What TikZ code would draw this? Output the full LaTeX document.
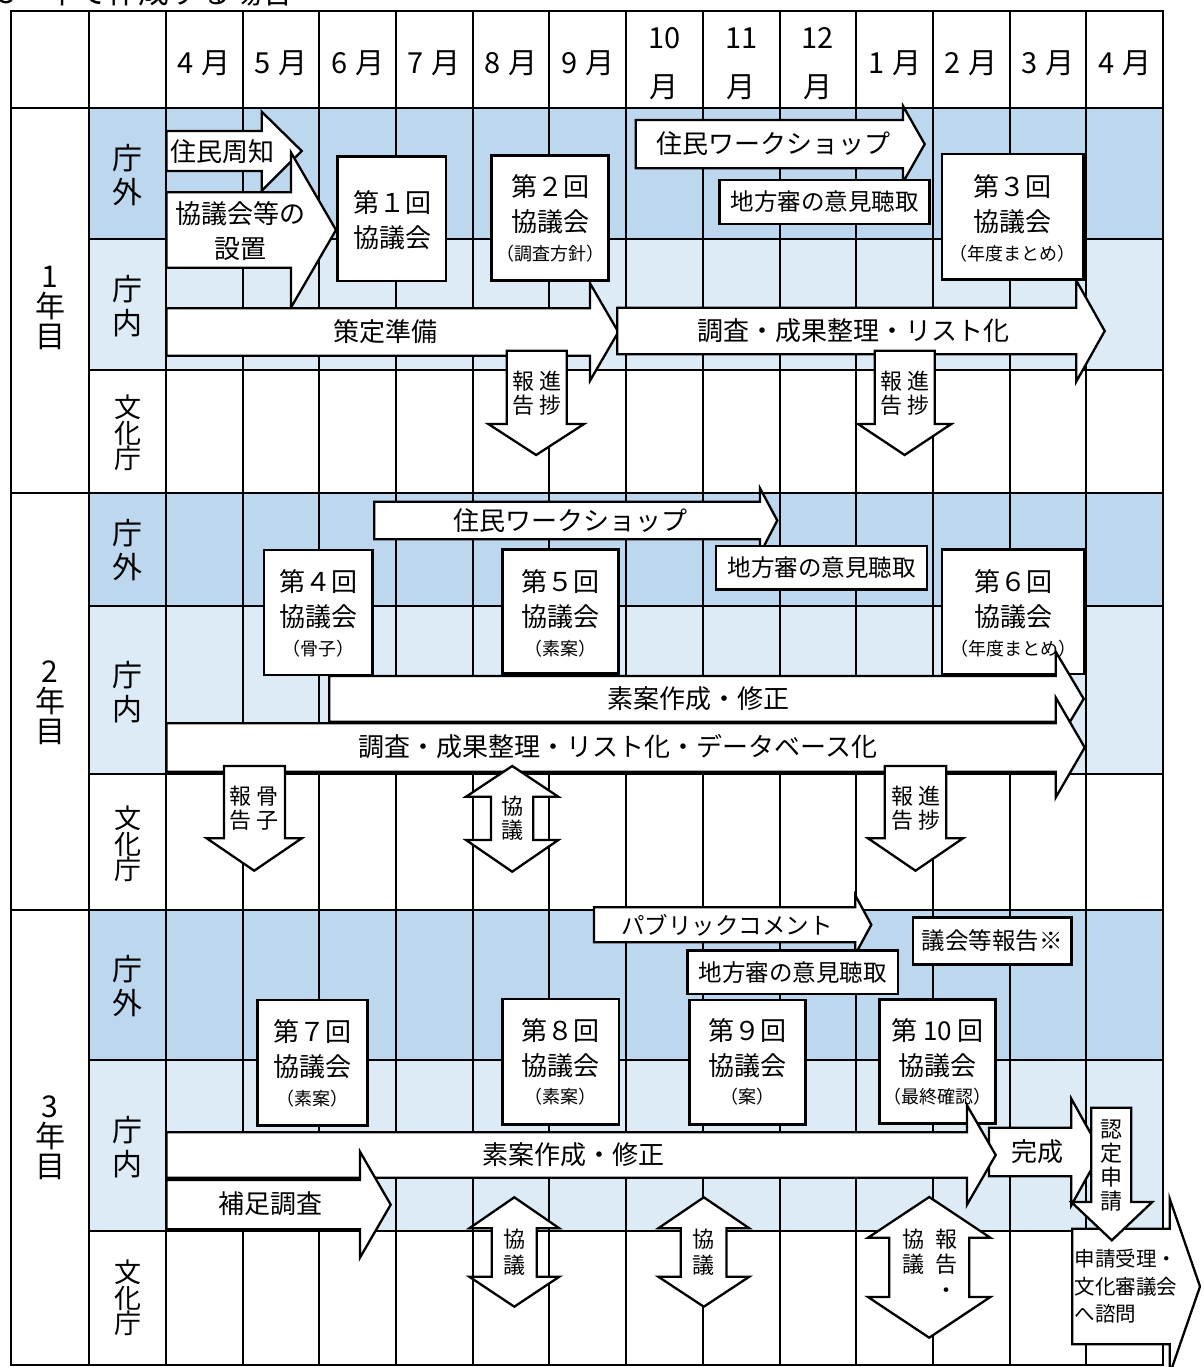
\documentclass[tikz,border=0pt]{standalone}
\usepackage{fontspec}
\setmainfont{Noto Sans CJK JP}
\definecolor{outerblue}{HTML}{BDD7EE}
\definecolor{innerblue}{HTML}{DDEBF7}
\newcommand\myRA[7]{\draw[blk] (#1,#2) -- (#4,#2) -- (#4,#5) -- (#7,{(#2+#3)/2}) -- (#4,#6) -- (#4,#3) -- (#1,#3) -- cycle;}
\newcommand\myDA[7]{\draw[blk] (#1,#3) -- (#2,#3) -- (#2,#4) -- (#6,#4) -- ({(#5+#6)/2},#7) -- (#5,#4) -- (#1,#4) -- cycle;}
\newcommand\myUDA[9]{\draw[blk] (#1,#2) -- (#5,#3) -- (#7,#3) -- (#7,#8) -- (#5,#8) -- (#1,#9) -- (#4,#8) -- (#6,#8) -- (#6,#3) -- (#4,#3) -- cycle;}
\newcommand\myBox[4]{\draw[bx] (#1,#2) rectangle (#3,#4);}
\newcommand\myPar[1]{\makebox[15pt][r]{（}#1\makebox[15pt][l]{）}}
\tikzset{
  grid/.style={line width=2pt},
  blk/.style={draw=black, fill=white, line width=2.3pt, line join=miter},
  bx/.style={draw=black, fill=white, line width=2.7pt},
  t26/.style={inner sep=0pt, align=center, font=\fontsize{26}{35}\selectfont},
  t17/.style={inner sep=0pt, font=\fontsize{18}{20}\selectfont},
  t23/.style={inner sep=0pt, font=\fontsize{23.5}{26}\selectfont},
  t22/.style={inner sep=0pt, align=center, font=\fontsize{22}{23.5}\selectfont},
  t22b/.style={inner sep=0pt, align=center, font=\fontsize{22}{26.5}\selectfont},
  hdr/.style={inner sep=0pt, align=center, font=\fontsize{29}{49}\selectfont},
  side/.style={inner sep=0pt, align=center, font=\fontsize{30}{34}\selectfont},
  bunka/.style={inner sep=0pt, align=center, font=\fontsize{27}{25.5}\selectfont},
  yearlbl/.style={inner sep=0pt, align=center, font=\fontsize{30}{30}\selectfont},
}
\begin{document}
\setlength{\lineskiplimit}{-30pt}
\begin{tikzpicture}[x=1pt,y=-1pt]
\useasboundingbox (0,0) rectangle (1203,1367);
\clip (0,0) rectangle (1203,1367);
\fill[white] (0,0) rectangle (1203,1367);
% title (cut off at top)
\node[anchor=base west, inner sep=0pt, font=\fontsize{31}{31}\selectfont] (title) at (-2,4) {3\hspace{30pt}年で作成する場合};
% bands
\fill[outerblue] (89.2,107.7) rectangle (1163,238.7);
\fill[innerblue] (89.2,238.7) rectangle (1163,370);
\fill[outerblue] (89.2,492.7) rectangle (1163,605.7);
\fill[innerblue] (89.2,605.7) rectangle (1163,774);
\fill[outerblue] (89.2,910) rectangle (1163,1060);
\fill[innerblue] (89.2,1060) rectangle (1163,1231);
% grid lines
\foreach \x in {89.2,165.9,242.6,319.3,396.0,472.7,549.4,626.1,702.8,779.5,856.2,932.9,1009.6,1086.3}
  \draw[grid] (\x,11) -- (\x,1364.5);
\foreach \y in {107.7,492.7,910}
  \draw[grid] (11,\y) -- (1163,\y);
\foreach \y in {238.7,370,605.7,774,1060,1231}
  \draw[grid] (89.2,\y) -- (1163,\y);
\draw[grid] (11,11) rectangle (1163,1364.5);
% header
\foreach \k/\m in {2/4,3/5,4/6,5/7,6/8,7/9,11/1,12/2,13/3,14/4}
  \node[hdr] (m\k) at ({50.85+76.7*\k},63) {\m\hspace{8pt}月};
\foreach \k/\m in {8/10,9/11,10/12}
  \node[hdr] (m\k) at ({50.85+76.7*\k},63.5) {\m\\月};
% year labels
\node[yearlbl] (y1) at (50,308) {1\\年\\目};
\node[yearlbl] (y2) at (50,703) {2\\年\\目};
\node[yearlbl] (y3) at (50,1138) {3\\年\\目};
% side labels
\node[side] (s1o) at (127.5,175) {庁\\外};
\node[side] (s1i) at (127.5,306) {庁\\内};
\node[bunka] (s1b) at (127.5,433) {文\\化\\庁};
\node[side] (s2o) at (127.5,550) {庁\\外};
\node[side] (s2i) at (127.5,692) {庁\\内};
\node[bunka] (s2b) at (127.5,844) {文\\化\\庁};
\node[side] (s3o) at (127.5,986.5) {庁\\外};
\node[side] (s3i) at (127.5,1147.5) {庁\\内};
\node[bunka] (s3b) at (127.5,1298) {文\\化\\庁};

% ===== Year 1 =====
\myRA{166.5}{131}{171}{261.7}{111.7}{190.7}{301.7}
\node[t26] (t1a) at (222.5,151.7) {住民周知};
\myRA{166.5}{192.3}{267.7}{291}{152.5}{307.5}{336}
\node[t26] (t1b) at (240,231) {協議会等の\\設置};
\myBox{337.7}{156.7}{446}{281}
\node[t26] (t1c) at (392,220) {第１回\\協議会};
\myRA{166.5}{308.3}{355.7}{590}{283.3}{380.7}{618.3}
\node[t26] (t1d) at (385,331.5) {策定準備};
\myBox{491.7}{155.7}{608.3}{280.3}
\node[t26] (t1e) at (550,204.2) {第２回\\協議会};
\node[t17] (t1e2) at (550,253.3) {\myPar{調査方針}};
\myRA{617.3}{307.7}{354.3}{1076.3}{280.5}{381.5}{1104.7}
\node[t26] (t1i) at (853,331) {調査・成果整理・リスト化};
\myBox{942}{154}{1083.7}{279.3}
\node[t26] (t1h) at (1012.9,204.2) {第３回\\協議会};
\node[t17] (t1h2) at (1012.9,253.3) {\myPar{年度まとめ}};
\myRA{635.7}{120}{168.3}{903}{106}{182.3}{924.7}
\node[t26] (t1f) at (773,143.5) {住民ワークショップ};
\myBox{719.3}{180}{929.7}{224}
\node[t23] (t1g) at (824.5,202) {地方審の意見聴取};
\myDA{506.7}{566.7}{350.7}{424}{488.3}{584}{455}
\node[t22] (t1j) at (536.5,393.3) {報\kern5pt進\\告\kern5pt捗};
\myDA{874.7}{934.7}{350.7}{424}{858}{951.3}{455}
\node[t22] (t1k) at (904.7,393.3) {報\kern5pt進\\告\kern5pt捗};

% ===== Year 2 =====
\myRA{374.3}{501.7}{539.3}{760}{488.3}{553.7}{777.3}
\node[t26] (t2a) at (570,521) {住民ワークショップ};
\myBox{716}{546}{927}{589.3}
\node[t23] (t2b) at (821.5,567.7) {地方審の意見聴取};
\myBox{264}{550}{372.7}{675}
\node[t26] (t2c) at (318.3,599.2) {第４回\\協議会};
\node[t17] (t2c2) at (318.3,648.3) {\myPar{骨子}};
\myBox{502.7}{549.3}{618.3}{673.3}
\node[t26] (t2d) at (560.5,599.2) {第５回\\協議会};
\node[t17] (t2d2) at (560.5,648.3) {\myPar{素案}};
\myBox{942}{549.3}{1084.7}{674}
\node[t26] (t2e) at (1013.3,599.2) {第６回\\協議会};
\node[t17] (t2e2) at (1013.3,648.3) {\myPar{年度まとめ}};
\myRA{329.3}{676}{721.7}{1055.7}{651.7}{745.5}{1083.7}
\node[t26] (t2f) at (698,698.5) {素案作成・修正};
\myRA{166.5}{723.3}{771.7}{1055.7}{697.5}{797.5}{1084.7}
\node[t26] (t2g) at (618,746.5) {調査・成果整理・リスト化・データベース化};
\myDA{224}{285}{766}{838.3}{206.7}{301.7}{870.7}
\node[t22] (t2h) at (254.2,808.3) {報\kern5pt骨\\告\kern5pt子};
\myUDA{512.2}{766}{796.7}{466}{558.3}{491}{533.3}{840}{871.7}
\node[t22] (t2i) at (512.2,818.3) {協\\議};
\myDA{884.7}{946.3}{766}{838.3}{868}{963}{870.7}
\node[t22] (t2j) at (915.5,808.3) {報\kern5pt進\\告\kern5pt捗};

% ===== Year 3 =====
\myRA{594}{907.3}{942.3}{855.3}{895.3}{954.3}{871.3}
\node[t23] (t3a) at (727,925) {パブリックコメント};
\myBox{913}{917.7}{1071.3}{964.3}
\node[t23] (t3b) at (992.2,941) {議会等報告※};
\myBox{687.7}{950.7}{898}{994}
\node[t23] (t3c) at (792.9,972.3) {地方審の意見聴取};
\myBox{257.3}{1000}{367.3}{1125.7}
\node[t26] (t3d) at (312.3,1049.2) {第７回\\協議会};
\node[t17] (t3d2) at (312.3,1098.3) {\myPar{素案}};
\myBox{502.7}{999}{619}{1124.3}
\node[t26] (t3e) at (560.8,1048.2) {第８回\\協議会};
\node[t17] (t3e2) at (560.8,1096.7) {\myPar{素案}};
\myBox{689.3}{1000}{805.7}{1124.3}
\node[t26] (t3f) at (747.5,1048.2) {第９回\\協議会};
\node[t17] (t3f2) at (747.5,1096.7) {\myPar{案}};
\myBox{879.7}{999.7}{995.7}{1123.7}
\node[t26] (t3g) at (937.7,1047.8) {第 10 回\\協議会};
\node[t17] (t3g2) at (937.7,1097) {\myPar{最終確認}};
\myRA{989}{1127.7}{1176.3}{1071.3}{1098.7}{1205.3}{1101}
\node[t26] (t3j) at (1037,1152) {完成};
\myRA{166.5}{1132.3}{1177.7}{967}{1105.3}{1204.7}{995.7}
\node[t26] (t3h) at (573.3,1155) {素案作成・修正};
\myRA{166.5}{1180}{1229.3}{360}{1151.7}{1257.6}{390.7}
\node[t26] (t3i) at (270.8,1204) {補足調査};
\myRA{1072.3}{1228.7}{1344.3}{1169.7}{1198.7}{1374.3}{1200}
\node[inner sep=0pt, anchor=west, align=left, font=\fontsize{20.5}{27.5}\selectfont] (t3l) at (1074.7,1286.5) {申請受理・\\文化審議会\\へ諮問};
\myDA{1091.3}{1131.3}{1107.7}{1202}{1071.3}{1152.3}{1240.3}
\node[inner sep=0pt, align=center, font=\fontsize{22}{24}\selectfont] (t3k) at (1111.3,1165) {認\\定\\申\\請};
\myUDA{514.3}{1197.3}{1228.3}{469.3}{559.3}{491.7}{536.7}{1276.7}{1306.7}
\node[t22b] (t3m) at (514.3,1252) {協\\議};
\myUDA{703.8}{1197.3}{1228.3}{658.3}{749.3}{680.7}{726.5}{1276.7}{1306.7}
\node[t22b] (t3n) at (703.8,1252) {協\\議};
\myUDA{929.2}{1197}{1237.7}{868}{990.3}{889.2}{969.2}{1297}{1337.7}
\node[inner sep=0pt, align=center, font=\fontsize{22}{25.6}\selectfont] (t3o) at (929.7,1264.3) {協\kern11pt報\\議\kern11pt告\\\phantom{協}\kern11pt・};
\end{tikzpicture}
\end{document}
